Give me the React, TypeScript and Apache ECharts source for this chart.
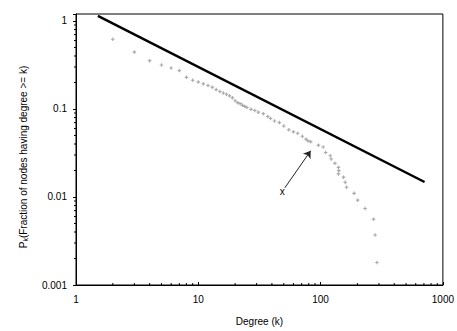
import React, { useEffect, useRef } from "react";
import * as echarts from "echarts";

// Cumulative degree distribution points (degree k, fraction with degree >= k)
const degrees = [2, 3, 4, 5, 6, 7, 8, 9, 10, 11, 12, 13, 14, 15, 16, 17, 18, 19, 20, 21, 22, 23, 24, 25, 27, 29, 31, 34, 37, 39, 42, 46, 50, 55, 60, 65, 71, 76, 79, 83, 96, 105, 110, 120, 122, 131, 140, 141, 140, 154, 159, 163, 188, 201, 231, 271, 279, 289];
const fractions = [0.62, 0.443, 0.354, 0.316, 0.292, 0.273, 0.229, 0.212, 0.203, 0.193, 0.185, 0.177, 0.166, 0.158, 0.152, 0.147, 0.141, 0.134, 0.124, 0.118, 0.115, 0.11, 0.107, 0.104, 0.099, 0.096, 0.092, 0.0885, 0.082, 0.078, 0.073, 0.07, 0.064, 0.058, 0.055, 0.053, 0.049, 0.0454, 0.0434, 0.0423, 0.0388, 0.037, 0.032, 0.0294, 0.027, 0.0241, 0.0217, 0.0199, 0.0183, 0.0168, 0.0147, 0.0129, 0.011, 0.0092, 0.0074, 0.0056, 0.0037, 0.0018];

// Power-law fit line endpoints
const fitK = [1.51, 708];
const fitP = [1.14, 0.0148];

// Annotation arrow (from, to) and label
const arrowFrom = [51, 0.0127];
const arrowTo = [83, 0.0335];
const annotationPos = [48.6, 0.0114];
const annotationText = "x";

const xTickLabels = ["1", "10", "100", "1000"];
const yTickLabels = ["0.001", "0.01", "0.1", "1"];
const xMinorTicks = [2, 3, 4, 5, 6, 7, 8, 9, 20, 30, 40, 50, 60, 70, 80, 90, 200, 300, 400, 500, 600, 700, 800, 900];
const yMinorTicks = [0.002, 0.003, 0.004, 0.005, 0.006, 0.007, 0.008, 0.009, 0.02, 0.03, 0.04, 0.05, 0.06, 0.07, 0.08, 0.09, 0.2, 0.3, 0.4, 0.5, 0.6, 0.7, 0.8, 0.9];

const xTitle = "Degree (k)";

const FONT = "'Liberation Sans', Arial, sans-serif";

export default function App() {
  const ref = useRef<HTMLDivElement>(null);
  useEffect(() => {
    if (!ref.current) return;
    const chart = echarts.init(ref.current, null, { renderer: "svg" });
    const X_MIN = 1, X_MAX = 1000, Y_MIN = 0.001, Y_MAX = 1.2;
    const pickLabel = (labels: string[], offset: number) => (v: number) => {
      const l = Math.log10(v);
      if (Math.abs(l - Math.round(l)) > 1e-6) return "";
      return labels[Math.round(l) + offset] ?? "";
    };
    chart.setOption({
      animation: false,
      backgroundColor: "#fff",
      textStyle: { fontFamily: FONT },
      grid: {
        left: 76, right: 11.5, top: 14, bottom: 44.3,
        show: true, borderColor: "#000", borderWidth: 1, backgroundColor: "transparent",
      },
      xAxis: {
        type: "log", logBase: 10, min: X_MIN, max: X_MAX,
        axisLine: { show: true, lineStyle: { color: "#000", width: 1 } },
        axisTick: { show: true, inside: true, length: 3, lineStyle: { color: "#000" } },
        axisLabel: { color: "#000", fontSize: 10, fontFamily: FONT, margin: 9, formatter: pickLabel(xTickLabels, 0) },
        splitLine: { show: false },
        name: xTitle, nameLocation: "middle", nameGap: 31,
        nameTextStyle: { color: "#000", fontSize: 10, fontFamily: FONT },
      },
      yAxis: {
        type: "log", logBase: 10, min: Y_MIN, max: Y_MAX,
        axisLine: { show: true, lineStyle: { color: "#000", width: 1 } },
        axisTick: { show: true, inside: false, length: 3, lineStyle: { color: "#000" } },
        axisLabel: { color: "#000", fontSize: 10, fontFamily: FONT, margin: 9, formatter: pickLabel(yTickLabels, 3) },
        splitLine: { show: false },
      },
      graphic: [
        {
          type: "text", x: 23, y: 157, rotation: Math.PI / 2,
          style: {
            text: "{a|P}{b|k}{a|(Fraction of nodes having degree >= k)}",
            textAlign: "center", textVerticalAlign: "middle",
            rich: {
              a: { fontSize: 10, fontFamily: FONT, fill: "#000", color: "#000" },
              b: { fontSize: 7, fontFamily: FONT, fill: "#000", color: "#000", padding: [5, 0, 0, 0] },
            },
          },
        },
      ],
      series: [
        {
          type: "line",
          data: fitK.map((k, i) => [k, fitP[i]]),
          symbol: "none",
          lineStyle: { color: "#000", width: 2.5 },
          silent: true,
        },
        {
          type: "scatter",
          data: degrees.map((k, i) => [k, fractions[i]]),
          symbol: "path://M1,0H2V1H3V2H2V3H1V2H0V1H1Z",
          symbolSize: 3.5,
          itemStyle: { color: "#959595" },
          silent: true,
          markLine: {
            silent: true,
            symbol: ["none", "arrow"],
            symbolSize: 7,
            label: { show: false },
            lineStyle: { color: "#222", width: 1, type: "solid" },
            data: [[{ coord: arrowFrom }, { coord: arrowTo }]],
          },
          markPoint: {
            silent: true,
            symbol: "circle",
            symbolSize: 0,
            label: { show: true, position: "inside", formatter: annotationText, color: "#000", fontSize: 10, fontFamily: FONT },
            data: [{ coord: annotationPos }],
          },
        },
        {
          type: "custom",
          clip: false,
          silent: true,
          data: xMinorTicks.map((v) => [v, Y_MIN]),
          renderItem: (params: any, api: any) => {
            const p = api.coord([api.value(0), api.value(1)]);
            return { type: "line", shape: { x1: p[0], y1: p[1], x2: p[0], y2: p[1] - 2 }, style: { stroke: "#000", lineWidth: 1 } };
          },
        },
        {
          type: "custom",
          clip: false,
          silent: true,
          data: yMinorTicks.map((v) => [X_MIN, v]),
          renderItem: (params: any, api: any) => {
            const p = api.coord([api.value(0), api.value(1)]);
            return { type: "line", shape: { x1: p[0] - 2, y1: p[1], x2: p[0], y2: p[1] }, style: { stroke: "#000", lineWidth: 1 } };
          },
        },
      ],
    });
    return () => chart.dispose();
  }, []);
  return <div ref={ref} style={{ width: 457, height: 331, position: "absolute", left: 0, top: 0 }} />;
}
